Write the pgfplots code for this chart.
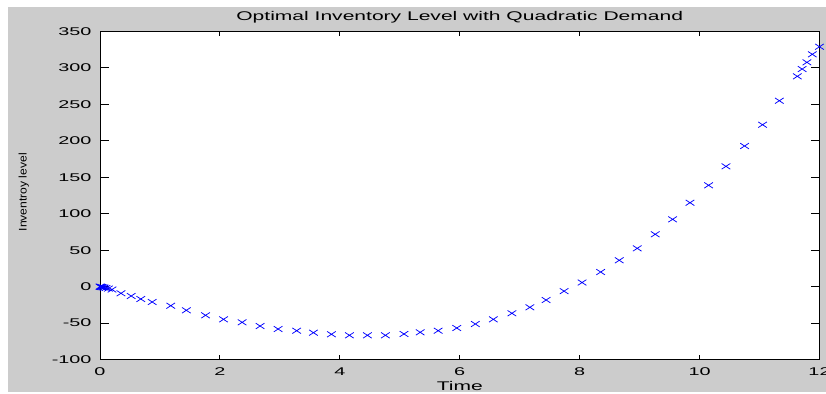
\documentclass[border=0pt]{standalone}
\usepackage{fontspec}
\setmainfont{Liberation Sans}[FakeStretch=1.67]
\newfontfamily\tickfont{Liberation Sans}[FakeStretch=1.77]
\newfontfamily\ylabfont{Liberation Sans}[FakeStretch=1.1]
\usepackage{pgfplots}
\pgfplotsset{compat=1.18}
\definecolor{figgray}{RGB}{204,204,204}

\begin{document}
\begin{tikzpicture}
\useasboundingbox (0,0) rectangle (826bp,394bp);
% figure window background
\fill[white] (0,0) rectangle (826bp,394bp);
\fill[figgray] (8bp,2bp) rectangle (826bp,386.7bp);
\begin{axis}[
  at={(100bp,34.5bp)}, anchor=south west,
  scale only axis, width=719.5bp, height=328bp,
  xmin=0, xmax=12, ymin=-100, ymax=350,
  xtick={0,2,...,12}, ytick={-100,-50,...,350},
  clip=false,
  axis background/.style={fill=white},
  axis line style={black, line width=0.9bp},
  tick style={black, line width=0.9bp},
  xtick style={/pgfplots/major tick length=4.5bp},
  ytick style={/pgfplots/major tick length=9bp},
  /pgf/number format/assume math mode=true,
  tick label style={font=\tickfont\fontsize{11.2bp}{13bp}\selectfont, inner sep=0pt},
  xticklabel style={anchor=base, yshift=-16.2bp},
  yticklabel style={anchor=east, xshift=-8.3bp},
  every axis title shift=0pt,
  title={Optimal Inventory Level with Quadratic Demand},
  title style={at={(axis description cs:0.5,1.0329)}, anchor=base,
    font=\fontsize{12.6bp}{15bp}\selectfont, inner sep=0pt},
  xlabel={Time},
  xlabel style={at={(axis description cs:0.5,-0.0960)}, anchor=base,
    font=\fontsize{12.6bp}{15bp}\selectfont, inner sep=0pt},
  ylabel={Inventroy level},
  every axis y label/.style={at={(axis description cs:-0.106,0.51)},
    rotate=90, anchor=center, inner sep=0pt,
    font=\ylabfont\fontsize{11bp}{13bp}\selectfont},
]
\addplot[only marks, blue, mark=x, mark size=4bp,
  mark options={xscale=1.53, solid, line width=0.75bp}] coordinates {
  (0,0) (0.01,-0.2) (0.02,-0.4) (0.03,-0.6) (0.05,-1.0) (0.07,-1.4)
  (0.10,-2.0) (0.14,-2.7) (0.20,-4.0) (0.35,-9.2) (0.52,-12.9)
  (0.68,-17.0) (0.87,-21.1) (1.18,-26.2) (1.44,-32.5) (1.76,-39.4)
  (2.06,-44.9) (2.37,-49.0) (2.67,-54.1) (2.97,-58.2) (3.28,-60.5)
  (3.56,-63.2) (3.86,-65.4) (4.16,-66.8) (4.46,-66.8) (4.76,-66.8)
  (5.07,-65.0) (5.34,-62.7) (5.64,-60.5) (5.95,-56.8) (6.26,-51.3)
  (6.56,-44.9) (6.87,-36.6) (7.17,-28.4) (7.44,-18.4) (7.74,-6.2)
  (8.04,5.6) (8.35,20.0) (8.66,36.1) (8.96,52.5) (9.26,71.8)
  (9.55,92.3) (9.84,115.1) (10.15,139.0) (10.44,165.0) (10.75,192.9)
  (11.05,222.1) (11.33,255.0) (11.63,288.5) (11.71,298.5) (11.79,307.7)
  (11.88,318.7) (12.00,329.1)
};
\end{axis}
\end{tikzpicture}
\end{document}
